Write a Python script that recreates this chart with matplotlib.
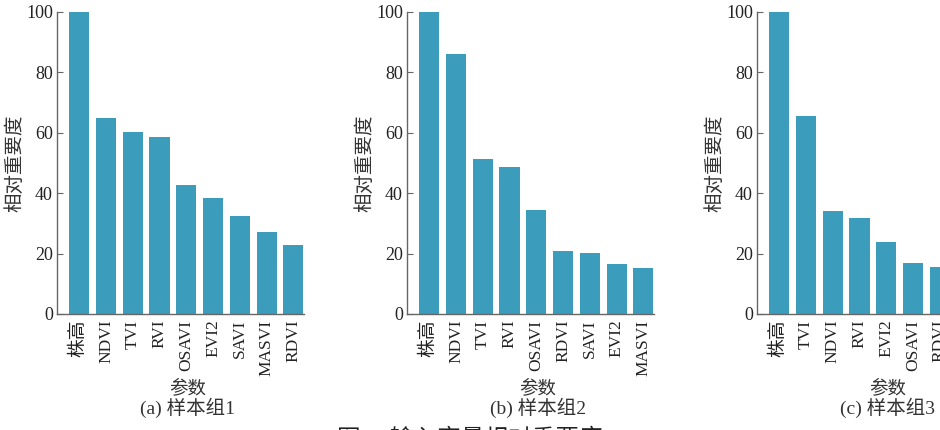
import matplotlib
matplotlib.use("Agg")
import matplotlib.pyplot as plt

plt.rcParams['font.family'] = ['Liberation Serif', 'Noto Sans CJK SC']

# Relative importance of input variables for each sample group
params_a = ['株高', 'NDVI', 'TVI', 'RVI', 'OSAVI', 'EVI2', 'SAVI', 'MASVI', 'RDVI']
values_a = [100, 65.0, 60.2, 58.6, 42.7, 38.5, 32.4, 27.0, 22.9]

params_b = ['株高', 'NDVI', 'TVI', 'RVI', 'OSAVI', 'RDVI', 'SAVI', 'EVI2', 'MASVI']
values_b = [100, 86.0, 51.2, 48.6, 34.5, 21.0, 20.2, 16.7, 15.2]

params_c = ['株高', 'TVI', 'NDVI', 'RVI', 'EVI2', 'OSAVI', 'RDVI']
values_c = [100, 65.4, 34.2, 31.9, 24.0, 16.8, 15.5]

captions = ['(a) 样本组1', '(b) 样本组2', '(c) 样本组3']

bar_color = '#3b9cbb'
axis_color = '#666666'

W, H = 940, 430
fig = plt.figure(figsize=(W / 100, H / 100), dpi=100)

# left edge of each panel in pixels
lefts = [57, 407, 757]
ax_w, ax_top, ax_bot = 247, 12, 314

panels = [(params_a, values_a), (params_b, values_b), (params_c, values_c)]
for (names, vals), left, cap in zip(panels, lefts, captions):
    ax = fig.add_axes([left / W, 1 - ax_bot / H, ax_w / W, (ax_bot - ax_top) / H])
    ax.bar(range(len(vals)), vals, width=0.75, color=bar_color)
    ax.set_xlim(-0.83, 8.4)
    ax.set_ylim(0, 100)
    ax.set_yticks([0, 20, 40, 60, 80, 100])
    ax.set_xticks(range(len(names)))
    ax.set_xticklabels(names, rotation=90, fontsize=12.5)
    # the Chinese label reads a bit larger than the Latin ones
    ax.get_xticklabels()[0].set_fontsize(13.5)
    ax.tick_params(axis='y', direction='in', length=4, width=0.8,
                   colors=axis_color, labelcolor='#222222', labelsize=13, pad=3)
    ax.tick_params(axis='x', length=0, pad=4, labelcolor='#222222')
    for s in ['top', 'right']:
        ax.spines[s].set_visible(False)
    for s in ['left', 'bottom']:
        ax.spines[s].set_color(axis_color)
        ax.spines[s].set_linewidth(1.0)
    ax.set_ylabel('相对重要度', fontsize=14, color='#333333', va='center')
    ax.yaxis.set_label_coords(-0.17, 0.5)
    ax.set_xlabel('参数', fontsize=13.3, color='#333333', va='center')
    ax.xaxis.set_label_coords(0.53, -0.245)
    ax.text(0.53, -0.312, cap, transform=ax.transAxes, ha='center', va='center',
            fontsize=14, color='#333333')

fig.text(0.5, 1 - 428 / H, '图5   输入变量相对重要度', ha='center', va='top',
         fontsize=17, color='#222222')

fig.savefig('out.png', dpi=100)
